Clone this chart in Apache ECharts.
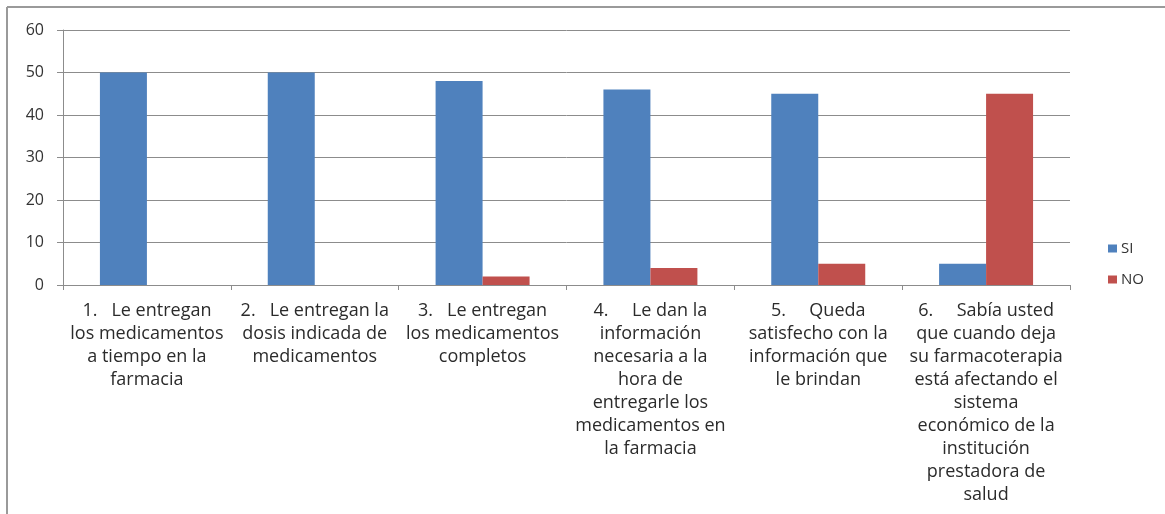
<!DOCTYPE html>
<html>
<head>
<meta charset="utf-8">
<script src="https://cdn.jsdelivr.net/npm/echarts@6/dist/echarts.min.js"></script>
<style>
html,body{margin:0;padding:0;background:#fff;}
#chart{width:1165px;height:514px;}
</style>
</head>
<body>
<div id="chart"></div>
<script>
const categories = [
  "1.   Le entregan\nlos medicamentos\na tiempo en la\nfarmacia",
  "2.   Le entregan la\ndosis indicada de\nmedicamentos",
  "3.   Le entregan\nlos medicamentos\ncompletos",
  "4.     Le dan la\ninformación\nnecesaria a la\nhora de\nentregarle los\nmedicamentos en\nla farmacia",
  "5.     Queda\nsatisfecho con la\ninformación que\nle brindan",
  "6.     Sabía usted\nque cuando deja\nsu farmacoterapia\nestá afectando el\nsistema\neconómico de la\ninstitución\nprestadora de\nsalud"
];
const siValues = [50, 50, 48, 46, 45, 5];
const noValues = [0, 0, 2, 4, 5, 45];
const seriesNames = ["SI", "NO"];

const chart = echarts.init(document.getElementById('chart'), null, {renderer: 'canvas'});
chart.setOption({
  animation: false,
  backgroundColor: '#ffffff',
  graphic: [
    {type: 'line', shape: {x1: 7, y1: 7, x2: 1165, y2: 7}, style: {stroke: '#9a9a9a', lineWidth: 2}},
    {type: 'line', shape: {x1: 7, y1: 7, x2: 7, y2: 514}, style: {stroke: '#9a9a9a', lineWidth: 2}}
  ],
  grid: {left: 63, right: 95, top: 30, bottom: 229, containLabel: false},
  legend: {
    orient: 'vertical',
    left: 1103, top: 236,
    itemWidth: 9, itemHeight: 8, itemGap: 16,
    icon: 'rect',
    textStyle: {fontFamily: 'Open Sans', fontSize: 15, color: '#333333', padding: [0,0,0,-1]},
    data: seriesNames
  },
  xAxis: {
    type: 'category',
    data: categories,
    axisLine: {show: true, lineStyle: {color: '#8c8c8c', width: 1}},
    axisTick: {show: true, length: 5, lineStyle: {color: '#8c8c8c'}},
    axisLabel: {
      interval: 0,
      margin: 14,
      fontFamily: 'Open Sans',
      fontSize: 18,
      lineHeight: 23,
      color: '#2b2b2b',
      align: 'center'
    }
  },
  yAxis: {
    type: 'value',
    min: 0, max: 60, interval: 10,
    axisLine: {show: true, lineStyle: {color: '#8c8c8c', width: 1}},
    axisTick: {show: true, length: 6, lineStyle: {color: '#8c8c8c'}},
    splitLine: {show: true, lineStyle: {color: '#8c8c8c', width: 1}},
    axisLabel: {
      margin: 19,
      fontFamily: 'Open Sans',
      fontSize: 16,
      color: '#333333'
    }
  },
  series: [
    {name: seriesNames[0], type: 'bar', data: siValues, barGap: '0%', barCategoryGap: '44%',
     itemStyle: {color: '#4f81bd'}},
    {name: seriesNames[1], type: 'bar', data: noValues, barGap: '0%', barCategoryGap: '44%',
     itemStyle: {color: '#c0504d'}}
  ]
});
</script>
</body>
</html>
